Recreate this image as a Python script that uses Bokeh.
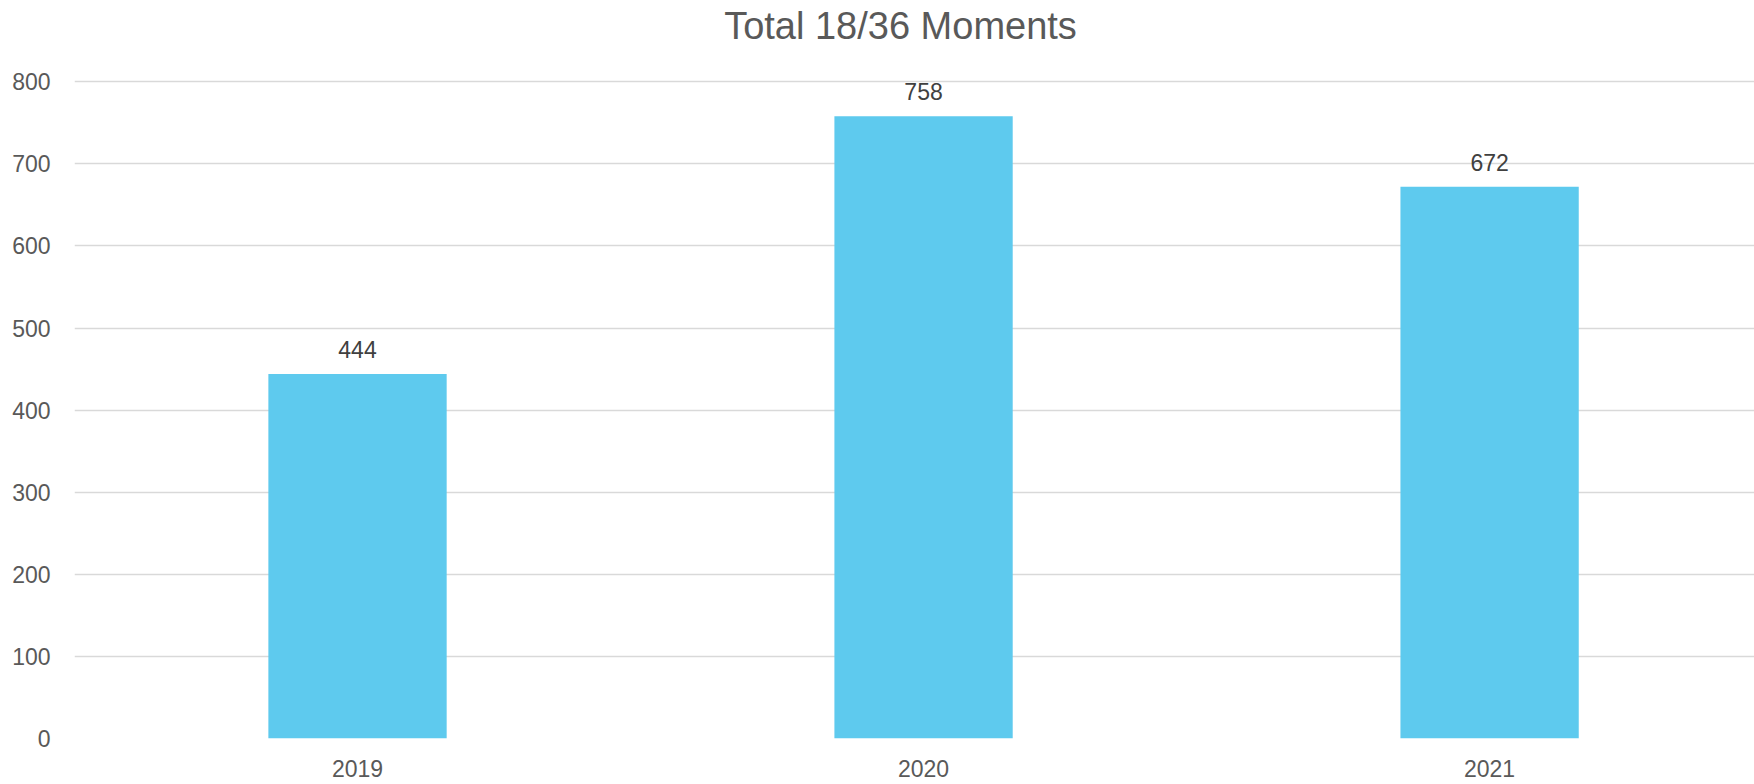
from bokeh.plotting import figure
from bokeh.models import ColumnDataSource, Range1d, FixedTicker, Label
from bokeh.core.properties import value
from bokeh.embed import file_html
from bokeh.resources import INLINE

# Data
categories = ["2019", "2020", "2021"]
totals = [444, 758, 672]
y_ticks = [0, 100, 200, 300, 400, 500, 600, 700, 800]
title_text = "Total 18/36 Moments"

FONT = "Liberation Sans"
BAR_COLOR = "#5ECAEE"

xs = list(range(len(categories)))
src = ColumnDataSource(dict(x=xs, top=totals, label=[str(v) for v in totals]))

p = figure(width=1754, height=784, output_backend="svg", toolbar_location=None,
           x_range=Range1d(-0.5, 2.468), y_range=Range1d(0, 899),
           min_border_left=74, min_border_right=0, min_border_top=0, min_border_bottom=46)

# chart title, placed in the headroom above the 800 gridline
p.add_layout(Label(x=826, y=713, x_units="screen", y_units="screen", text=title_text,
                   text_align="center", text_baseline="middle", text_font=FONT,
                   text_font_size="38px", text_color="#595959"))

p.vbar(x="x", top="top", width=0.315, bottom=0, source=src, fill_color=BAR_COLOR, line_color=None)
p.text(x="x", y="top", text="label", source=src, text_align="center", text_baseline="bottom",
       y_offset=-16, text_font=value(FONT), text_font_size="23px", text_color="#404040")

p.xaxis.ticker = FixedTicker(ticks=xs)
p.xaxis.major_label_overrides = {i: c for i, c in enumerate(categories)}
p.yaxis.ticker = FixedTicker(ticks=y_ticks)
for ax in (p.xaxis, p.yaxis):
    ax.axis_line_color = None
    ax.major_tick_line_color = None
    ax.minor_tick_line_color = None
    ax.major_label_text_font = FONT
    ax.major_label_text_font_size = "23px"
    ax.major_label_text_color = "#595959"
p.yaxis.major_label_standoff = 18
p.xaxis.major_label_standoff = 15

p.xgrid.grid_line_color = None
p.ygrid.ticker = FixedTicker(ticks=y_ticks)
p.ygrid.grid_line_color = "#D9D9D9"
p.ygrid.grid_line_width = 1.5
p.outline_line_color = None

open("out.html", "w").write(file_html(p, INLINE))
